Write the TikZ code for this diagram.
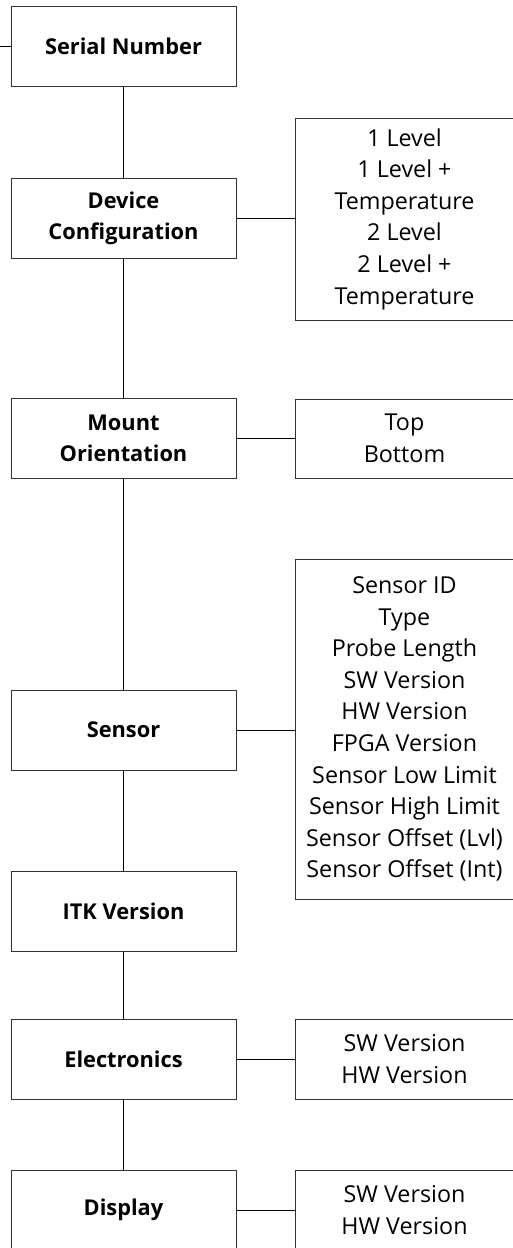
\documentclass[tikz,border=0pt]{standalone}
\usepackage{fontspec}
\setmainfont{Open Sans}
\begin{document}
\begin{tikzpicture}[x=1pt,y=-1pt,
  lbox/.style={draw=black!80, line width=1pt, minimum width=225pt, minimum height=80pt, inner sep=0pt, align=center, font=\fontsize{21.8}{31}\selectfont\bfseries},
  rbox/.style={draw=black!80, line width=1pt, minimum width=219pt, inner sep=0pt, align=center, font=\fontsize{23.3}{31.6}\selectfont},
  conn/.style={draw=black, line width=0.9pt}]
\useasboundingbox (0,0) rectangle (512,1248);
\node[lbox] (sn) at (123.5,46) {Serial Number};
\node[lbox] (dc) at (123.5,218) {Device\\Configuration};
\node[lbox] (mo) at (123.5,438.5) {Mount\\Orientation};
\node[lbox] (se) at (123.5,730) {Sensor};
\node[lbox] (itk) at (123.5,911.5) {ITK Version};
\node[lbox] (el) at (123.5,1059) {Electronics};
\node[lbox] (di) at (123.5,1210) {Display};
\node[rbox, minimum height=202pt] (dcr) at (404.5,219) {1 Level\\1 Level +\\Temperature\\2 Level\\2 Level +\\Temperature};
\node[rbox, minimum height=79pt] (mor) at (404.5,438.5) {Top\\Bottom};
\node[rbox, minimum height=340pt] (ser) at (404.5,729) {Sensor ID\\Type\\Probe Length\\SW Version\\HW Version\\FPGA Version\\Sensor Low Limit\\Sensor High Limit\\Sensor Offset (Lvl)\\Sensor Offset (Int)};
\node[rbox, minimum height=80pt] (elr) at (404.5,1059) {SW Version\\HW Version};
\node[rbox, minimum height=80pt] (dir) at (404.5,1210) {SW Version\\HW Version};
\coordinate (stub) at (0,46);
\draw[conn] (stub) -- (sn.west);
\draw[conn] (sn.south) -- (dc.north);
\draw[conn] (dc.south) -- (mo.north);
\draw[conn] (mo.south) -- (se.north);
\draw[conn] (se.south) -- (itk.north);
\draw[conn] (itk.south) -- (el.north);
\draw[conn] (el.south) -- (di.north);
\draw[conn] (dc.east) -- (dc.east -| dcr.west);
\draw[conn] (mo.east) -- (mo.east -| mor.west);
\draw[conn] (se.east) -- (se.east -| ser.west);
\draw[conn] (el.east) -- (el.east -| elr.west);
\draw[conn] (di.east) -- (di.east -| dir.west);
\end{tikzpicture}
\end{document}
